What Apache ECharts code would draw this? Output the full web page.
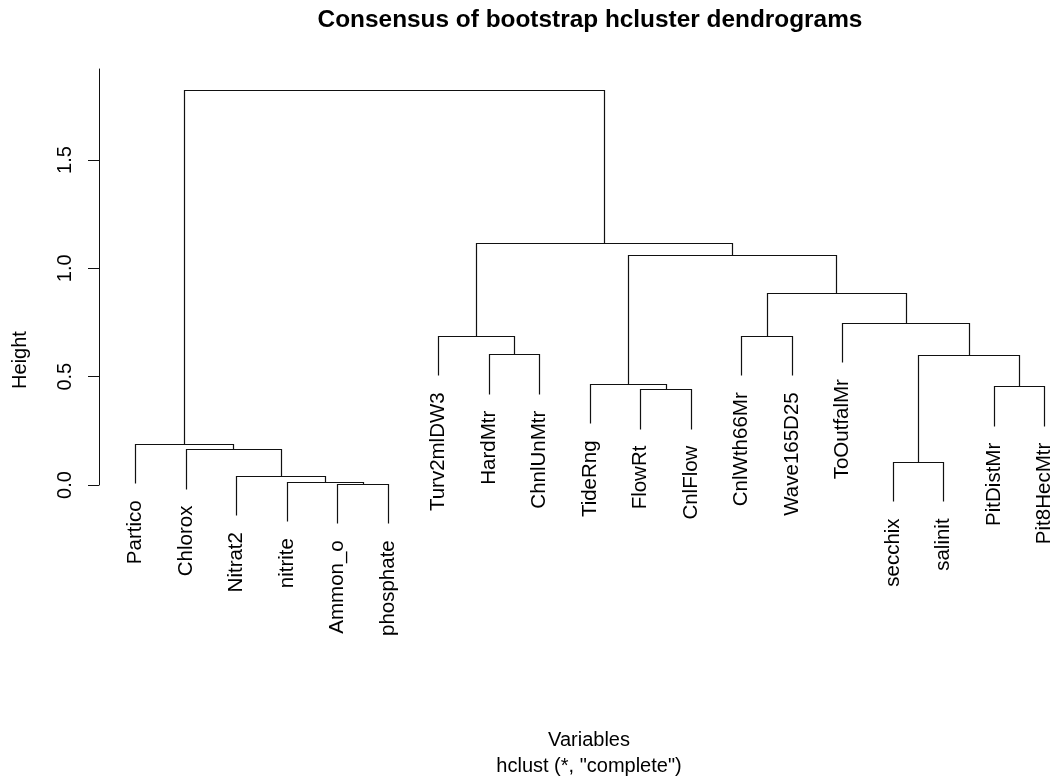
<!DOCTYPE html>
<html>
<head>
<meta charset="utf-8">
<title>Consensus of bootstrap hcluster dendrograms</title>
<script src="https://cdn.jsdelivr.net/npm/echarts@6/dist/echarts.min.js"></script>
<style>
  html, body { margin: 0; padding: 0; background: #ffffff; }
  #chart { width: 1052px; height: 784px; }
</style>
</head>
<body>
<div id="chart"></div>
<script>
// Leaf order along the x axis (left to right)
const leafNames = ['Partico', 'Chlorox', 'Nitrat2', 'nitrite', 'Ammon_o', 'phosphate',
  'Turv2mlDW3', 'HardMtr', 'ChnlUnMtr', 'TideRng', 'FlowRt', 'CnlFlow',
  'CnlWth66Mr', 'Wave165D25', 'ToOutfalMr', 'secchix', 'salinit', 'PitDistMr', 'Pit8HecMtr'];

// Merge steps, hclust style: negative = leaf (1-based position), positive = earlier merge (1-based)
const mergeLeft   = [-5, -4, -3, -16, -2, -1, -11, -18, -10, 4, -8, -7, -13, -15, 13, 9, 12, 6];
const mergeRight  = [-6, 1, 2, -17, 3, 5, -12, -19, 7, 8, -9, 11, -14, 10, 14, 15, 16, 17];
const mergeHeight = [0.005, 0.015, 0.043, 0.106, 0.165, 0.189, 0.442, 0.455, 0.466,
  0.601, 0.603, 0.688, 0.688, 0.749, 0.885, 1.063, 1.115, 1.821];

// Height axis ticks
const yTicks = [0, 0.5, 1.0, 1.5];

const FONT = '"Liberation Sans", Arial, Helvetica, sans-serif';
const hang = 0.1 * (Math.max(...mergeHeight) - Math.min(...mergeHeight));

// Horizontal position of each merge (midpoint of its two children)
const mergeX = [];
function nodeX(ref) { return ref < 0 ? -ref : mergeX[ref - 1]; }
for (let k = 0; k < mergeHeight.length; k++) {
  mergeX.push((nodeX(mergeLeft[k]) + nodeX(mergeRight[k])) / 2);
}

// Lower end of each child branch: a merge's own height, or the hanging leaf end
const leafBottom = new Array(leafNames.length).fill(0);
function childBottom(ref, parentH) {
  if (ref < 0) { leafBottom[-ref - 1] = parentH - hang; return parentH - hang; }
  return mergeHeight[ref - 1];
}

// One bracket per merge: [leftX, leftBottom, rightX, rightBottom, height]
const links = mergeHeight.map((h, k) => {
  const l = mergeLeft[k], r = mergeRight[k];
  return [nodeX(l), childBottom(l, h), nodeX(r), childBottom(r, h), h];
});

const leafPoints = leafNames.map((name, i) => [i + 1, leafBottom[i]]);

const snap = v => Math.round(v) + 0.5;

const chart = echarts.init(document.getElementById('chart'), null, { renderer: 'canvas' });

chart.setOption({
  backgroundColor: '#ffffff',
  animation: false,
  grid: { left: 99, top: 69, right: 0, height: 416, containLabel: false },
  xAxis: {
    type: 'value', min: 0.28, max: 19.15, show: false
  },
  yAxis: {
    type: 'value', min: 0, max: 1.92,
    splitLine: { show: false },
    axisLine: { show: true, lineStyle: { color: '#111', width: 1 } },
    axisTick: { show: true, length: 11, customValues: yTicks, lineStyle: { color: '#111', width: 1 } },
    axisLabel: {
      show: true, customValues: yTicks, rotate: 90, margin: 24,
      color: '#000', fontFamily: FONT, fontSize: 20,
      formatter: v => Number(v).toFixed(1)
    }
  },
  graphic: [
    { type: 'text', x: 590, y: 20,
      style: { text: 'Consensus of bootstrap hcluster dendrograms', fill: '#000',
        font: 'bold 24.4px ' + FONT, align: 'center', verticalAlign: 'middle' } },
    { type: 'text', x: 20, y: 360, rotation: Math.PI / 2,
      style: { text: 'Height', fill: '#000', font: '20px ' + FONT, align: 'center', verticalAlign: 'middle' } },
    { type: 'text', x: 589, y: 740,
      style: { text: 'Variables', fill: '#000', font: '20px ' + FONT, align: 'center', verticalAlign: 'middle' } },
    { type: 'text', x: 589, y: 766,
      style: { text: 'hclust (*, "complete")', fill: '#000', font: '20px ' + FONT, align: 'center', verticalAlign: 'middle' } }
  ],
  series: [
    {
      type: 'custom',
      name: 'branches',
      coordinateSystem: 'cartesian2d',
      clip: false,
      encode: { x: [0, 2], y: [1, 3, 4] },
      data: links,
      renderItem: function (params, api) {
        const a = api.coord([api.value(0), api.value(1)]);
        const b = api.coord([api.value(0), api.value(4)]);
        const c = api.coord([api.value(2), api.value(4)]);
        const d = api.coord([api.value(2), api.value(3)]);
        const pts = [a, b, c, d].map(p => [snap(p[0]), snap(p[1])]);
        return {
          type: 'polyline',
          shape: { points: pts },
          style: { stroke: '#111', lineWidth: 1.2, fill: null }
        };
      }
    },
    {
      type: 'custom',
      name: 'leaves',
      coordinateSystem: 'cartesian2d',
      clip: false,
      encode: { x: 0, y: 1 },
      data: leafPoints,
      renderItem: function (params, api) {
        const p = api.coord([api.value(0), api.value(1)]);
        return {
          type: 'text',
          x: p[0], y: p[1] + 17,
          rotation: Math.PI / 2,
          style: {
            text: leafNames[params.dataIndex],
            fill: '#000', font: '20.5px ' + FONT,
            align: 'right', verticalAlign: 'middle'
          }
        };
      }
    }
  ]
});
</script>
</body>
</html>
